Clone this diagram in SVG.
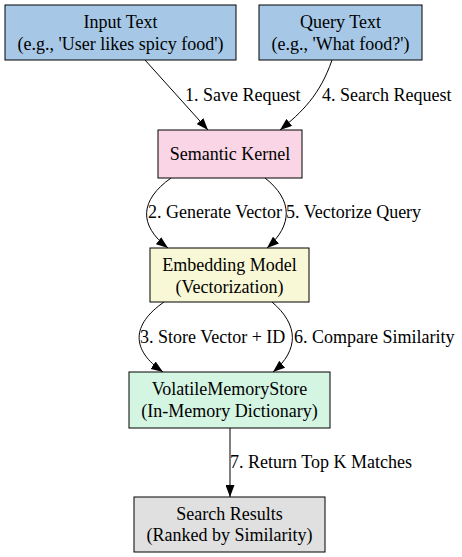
<svg xmlns="http://www.w3.org/2000/svg" width="462" height="557" viewBox="0 0 462 557">
<style>
text{font-family:"Liberation Serif","Times New Roman",serif;font-size:18px;fill:#000}
.n text{text-anchor:middle}
.n rect{stroke:#000;stroke-width:1}
.e path{fill:none;stroke:#000;stroke-width:1}
</style>
<defs>
<marker id="a" viewBox="0 0 12 9" refX="12" refY="4.5" markerWidth="12" markerHeight="9" markerUnits="userSpaceOnUse" orient="auto">
<path d="M0,0 L12,4.5 L0,9 z" fill="#000" stroke="none"/>
</marker>
</defs>
<rect width="462" height="557" fill="#fff"/>
<g id="connectors" class="e">
<path d="M145,60 L208,130" marker-end="url(#a)"/>
<path d="M332,60 C320,95 302,112 280,130" marker-end="url(#a)"/>
<path d="M171,178 C140,200 138,225 168,248" marker-end="url(#a)"/>
<path d="M265,178 C293,200 293,225 267,248" marker-end="url(#a)"/>
<path d="M164,302 C131,325 131,350 163,372" marker-end="url(#a)"/>
<path d="M272,302 C299,325 299,350 273,372" marker-end="url(#a)"/>
<path d="M230,428 L230,497" marker-end="url(#a)"/>
<text x="185" y="101">1. Save Request</text>
<text x="322" y="101">4. Search Request</text>
<text x="148" y="218">2. Generate Vector</text>
<text x="286" y="218">5. Vectorize Query</text>
<text x="140" y="343">3. Store Vector + ID</text>
<text x="294" y="343">6. Compare Similarity</text>
<text x="230" y="468">7. Return Top K Matches</text>
</g>
<g id="input" class="n">
<rect x="5" y="5" width="231" height="55" fill="#a6c8e6"/>
<text x="120.5" y="28">Input Text</text>
<text x="120.5" y="50">(e.g., 'User likes spicy food')</text>
</g>
<g id="query" class="n">
<rect x="259" y="5" width="163" height="55" fill="#a6c8e6"/>
<text x="340.5" y="28">Query Text</text>
<text x="340.5" y="50">(e.g., 'What food?')</text>
</g>
<g id="kernel" class="n">
<rect x="158" y="130" width="144" height="48" fill="#f9d5e5"/>
<text x="230" y="160">Semantic Kernel</text>
</g>
<g id="embedding" class="n">
<rect x="150" y="248" width="159" height="54" fill="#f9f8d6"/>
<text x="229.5" y="271">Embedding Model</text>
<text x="229.5" y="293">(Vectorization)</text>
</g>
<g id="store" class="n">
<rect x="129" y="372" width="201" height="56" fill="#d5f5e3"/>
<text x="229.5" y="395">VolatileMemoryStore</text>
<text x="229.5" y="417">(In-Memory Dictionary)</text>
</g>
<g id="results" class="n">
<rect x="134" y="497" width="191" height="55" fill="#e0e0e0"/>
<text x="229.5" y="520">Search Results</text>
<text x="229.5" y="541">(Ranked by Similarity)</text>
</g>
</svg>
